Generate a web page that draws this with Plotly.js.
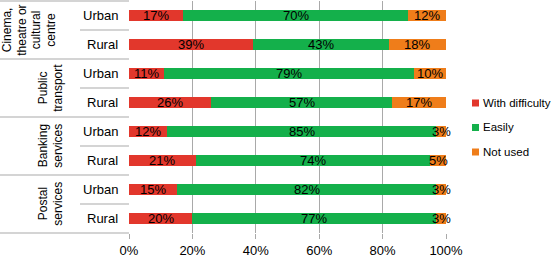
<!DOCTYPE html>
<html>
<head>
<meta charset="utf-8">
<script src="https://cdn.plot.ly/plotly-3.0.1.min.js"></script>
<style>html,body{margin:0;padding:0;background:#fff;}#chart{width:553px;height:260px;}</style>
</head>
<body>
<div id="chart"></div>
<script>
// ---- data ----
const groups = ["Cinema,<br>theatre or<br>cultural<br>centre", "Public<br>transport", "Banking<br>services", "Postal<br>services"];
const subcats = ["Urban", "Rural"];
const seriesNames = ["With difficulty", "Easily", "Not used"];
const withDifficulty = [17, 39, 11, 26, 12, 21, 15, 20];
const easily        = [70, 43, 79, 57, 85, 74, 82, 77];
const notUsed       = [12, 18, 10, 17, 3, 5, 3, 3];
const tickVals = [0, 20, 40, 60, 80, 100];
const tickText = ["0%", "20%", "40%", "60%", "80%", "100%"];

// ---- styling ----
const colors = ["#E2372C", "#14B04B", "#EF7D1A"];
const FONT = "Liberation Sans, Arial, Helvetica, sans-serif";
const lineCol = "#a9a9a9";
const W = 553, Hh = 260, L = 129, R = 107, T = 1, B = 27;
const PW = W - L - R, PH = Hh - T - B;
const px2x = p => (p - L) / PW;
const py2y = p => 1 - (p - T) / PH;

// row categories
const rows = [];
groups.forEach((g, gi) => subcats.forEach(s => rows.push(g.replace(/<br>/g, " ") + " | " + s)));

const series = [withDifficulty, easily, notUsed];
const traces = series.map((vals, i) => ({
  type: "bar",
  orientation: "h",
  name: seriesNames[i],
  y: rows,
  x: vals,
  textposition: "none",
  marker: {color: colors[i], line: {width: 0}},
  hoverinfo: "skip",
  showlegend: false
}));

const shapes = [];
const annotations = [];

// value labels centred on each (normalised) segment
rows.forEach((r, ri) => {
  const total = series.reduce((s, arr) => s + arr[ri], 0);
  let cum = 0;
  series.forEach((arr, si) => {
    const v = arr[ri];
    const mid = (cum + v / 2) / total * 100;
    cum += v;
    annotations.push({
      xref: "x", yref: "y", x: mid, y: r, text: v + "%",
      showarrow: false, xanchor: "center", yanchor: "middle",
      font: {family: FONT, size: 13, color: "#000"}
    });
  });
});

const xLeft = px2x(0);
// top and bottom borders of the label table
shapes.push({type: "line", xref: "paper", yref: "paper", x0: xLeft, x1: 0, y0: 1, y1: 1, line: {color: lineCol, width: 1}});
shapes.push({type: "line", xref: "paper", yref: "paper", x0: xLeft, x1: 0, y0: 0, y1: 0, line: {color: lineCol, width: 1}});
groups.forEach((g, gi) => {
  const base = gi * subcats.length;
  if (gi > 0) {
    shapes.push({type: "line", xref: "paper", yref: "y", x0: xLeft, x1: 0, y0: base - 0.5, y1: base - 0.5, line: {color: lineCol, width: 1}});
  }
  // separator between Urban and Rural
  shapes.push({type: "line", xref: "paper", yref: "y", x0: px2x(80), x1: 0, y0: base + 0.5, y1: base + 0.5, line: {color: lineCol, width: 1}});
  // group label, one annotation per line
  const lines = g.split("<br>");
  const spacing = 14.5;
  const center = lines.length > 2 ? 29 : 50.5;
  lines.forEach((ln, k) => {
    const cx = center + (k - (lines.length - 1) / 2) * spacing;
    annotations.push({
      xref: "paper", yref: "y", x: px2x(cx), y: base + 0.5,
      text: ln, showarrow: false, textangle: -90,
      xanchor: "center", yanchor: "middle",
      font: {family: FONT, size: 12, color: "#000"}
    });
  });
  subcats.forEach((s, si) => {
    annotations.push({
      xref: "paper", yref: "y", x: px2x(120), y: base + si,
      text: s, showarrow: false, xanchor: "right", yanchor: "middle",
      font: {family: FONT, size: 13, color: "#000"}
    });
  });
});

// custom legend
seriesNames.forEach((n, i) => {
  const cy = 103 + i * 24.5;
  shapes.push({type: "rect", xref: "paper", yref: "paper",
    x0: px2x(472), x1: px2x(479), y0: py2y(cy - 3.5), y1: py2y(cy + 3.5),
    fillcolor: colors[i], line: {width: 0}});
  annotations.push({xref: "paper", yref: "paper", x: px2x(481), y: py2y(cy),
    text: n, showarrow: false, xanchor: "left", yanchor: "middle",
    font: {family: FONT, size: 11.5, color: "#000"}});
});

const layout = {
  width: W, height: Hh,
  margin: {l: L, r: R, t: T, b: B, pad: 0},
  paper_bgcolor: "#fff", plot_bgcolor: "#fff",
  barmode: "stack", barnorm: "percent", bargap: 0.6,
  showlegend: false,
  font: {family: FONT, size: 13, color: "#000"},
  xaxis: {
    range: [0, 100], tickmode: "array", tickvals: tickVals, ticktext: tickText,
    showgrid: true, gridcolor: lineCol, gridwidth: 1,
    zeroline: false, showline: false,
    ticks: "outside", ticklen: 5, tickcolor: lineCol, tickwidth: 1,
    tickfont: {family: FONT, size: 13, color: "#000"}, fixedrange: true
  },
  yaxis: {
    type: "category", categoryorder: "array", categoryarray: rows,
    range: [rows.length - 0.5, -0.5],
    showticklabels: false, showgrid: false, zeroline: false, showline: false, ticks: "",
    fixedrange: true
  },
  shapes: shapes,
  annotations: annotations
};

Plotly.newPlot("chart", traces, layout, {displayModeBar: false, staticPlot: true});
</script>
</body>
</html>
